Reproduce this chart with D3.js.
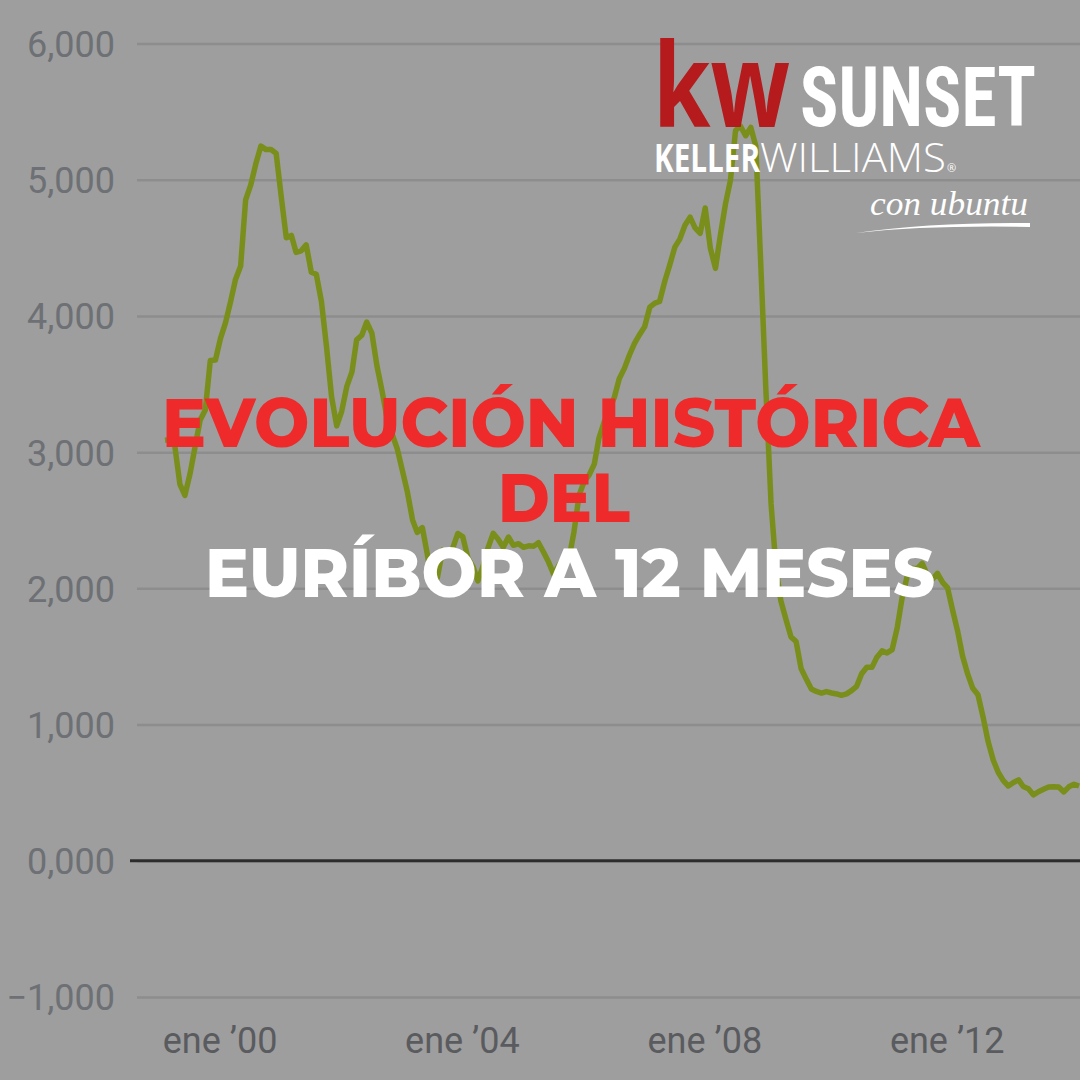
<!DOCTYPE html>
<html>
<head>
<meta charset="utf-8">
<script src="https://cdn.jsdelivr.net/npm/d3@7"></script>
<style>
  html, body { margin: 0; padding: 0; background: #9e9e9e; }
  svg { display: block; }
</style>
</head>
<body>
<div id="chart"></div>
<script>
// Euríbor a 12 meses, valores mensuales (ene..dic)
const years = [1999, 2000, 2001, 2002, 2003, 2004, 2005, 2006, 2007, 2008, 2009, 2010, 2011, 2012, 2013, 2014];
const v1999 = [3.088, 3.092, 3.047, 2.763, 2.682, 2.842, 3.037, 3.236, 3.309, 3.673, 3.676, 3.833];
const v2000 = [3.951, 4.108, 4.268, 4.367, 4.852, 4.962, 5.115, 5.247, 5.221, 5.222, 5.193, 4.882];
const v2001 = [4.574, 4.591, 4.467, 4.478, 4.522, 4.321, 4.306, 4.105, 3.769, 3.407, 3.193, 3.300];
const v2002 = [3.483, 3.589, 3.824, 3.858, 3.955, 3.874, 3.637, 3.451, 3.246, 3.133, 3.024, 2.870];
const v2003 = [2.708, 2.503, 2.411, 2.446, 2.252, 2.014, 2.080, 2.281, 2.258, 2.294, 2.403, 2.378];
const v2004 = [2.222, 2.157, 2.055, 2.163, 2.297, 2.404, 2.361, 2.302, 2.377, 2.316, 2.328, 2.301];
const v2005 = [2.312, 2.310, 2.335, 2.265, 2.193, 2.103, 2.168, 2.223, 2.220, 2.414, 2.684, 2.783];
const v2006 = [2.833, 2.914, 3.105, 3.221, 3.308, 3.401, 3.539, 3.615, 3.715, 3.799, 3.864, 3.921];
const v2007 = [4.064, 4.094, 4.106, 4.253, 4.373, 4.505, 4.564, 4.666, 4.725, 4.647, 4.607, 4.793];
const v2008 = [4.498, 4.349, 4.590, 4.820, 4.994, 5.361, 5.393, 5.323, 5.384, 5.248, 4.350, 3.452];
const v2009 = [2.622, 2.135, 1.909, 1.771, 1.644, 1.610, 1.412, 1.334, 1.261, 1.243, 1.231, 1.242];
const v2010 = [1.232, 1.225, 1.215, 1.225, 1.249, 1.281, 1.373, 1.421, 1.420, 1.495, 1.541, 1.526];
const v2011 = [1.550, 1.714, 1.924, 2.086, 2.147, 2.144, 2.183, 2.097, 2.067, 2.110, 2.044, 2.004];
const v2012 = [1.837, 1.678, 1.499, 1.368, 1.266, 1.219, 1.061, 0.877, 0.740, 0.650, 0.588, 0.549];
const v2013 = [0.575, 0.594, 0.545, 0.528, 0.484, 0.507, 0.525, 0.542, 0.543, 0.541, 0.506, 0.543];
const v2014 = [0.562, 0.549];
const yearValues = [v1999, v2000, v2001, v2002, v2003, v2004, v2005, v2006, v2007, v2008, v2009, v2010, v2011, v2012, v2013, v2014];

const yTicks = [-1, 0, 1, 2, 3, 4, 5, 6];
const xTickYears = [2000, 2004, 2008, 2012];
const monthShort = "ene";

const titleLine1 = "EVOLUCIÓN HISTÓRICA";
const titleLine2 = "DEL";
const titleLine3 = "EURÍBOR A 12 MESES";

const data = [];
years.forEach((yr, i) => {
  yearValues[i].forEach((v, m) => data.push({ date: new Date(yr, m, 1), value: v }));
});

const W = 1080, H = 1080;

const esLocale = d3.formatLocale({ decimal: ",", thousands: ".", grouping: [3], currency: ["", "€"] });
const fmt = esLocale.format(",.3f");

const svg = d3.select("#chart").append("svg")
  .attr("width", W)
  .attr("height", H);

svg.append("rect").attr("width", W).attr("height", H).attr("fill", "#9e9e9e");

// scales
const x = d3.scaleTime()
  .domain([new Date(1999, 0, 1), new Date(2014, 0, 1)])
  .range([165, 165 + 180 * 5.05]);
const y = d3.scaleLinear()
  .domain([-1, 6])
  .range([997, 43.5]);

// gridlines + y labels
const yAxis = d3.axisLeft(y)
  .tickValues(yTicks)
  .tickFormat(d => fmt(d))
  .tickSize(-(W - 137))
  .tickPadding(22);
const yAxisEl = svg.append("g")
  .attr("transform", "translate(137,0)")
  .call(yAxis);
yAxisEl.select(".domain").remove();
yAxisEl.selectAll("line")
  .attr("stroke", "#8d8d8d")
  .attr("stroke-width", 2.5);
yAxisEl.selectAll("text")
  .attr("fill", "#6d7074")
  .attr("font-family", "Roboto, sans-serif")
  .attr("font-size", 36)
  .attr("dy", "0.36em");

// zero line
svg.append("line")
  .attr("x1", 130).attr("x2", W)
  .attr("y1", y(0)).attr("y2", y(0))
  .attr("stroke", "#2d2d2d")
  .attr("stroke-width", 3);

// x axis labels
const xAxis = d3.axisBottom(x)
  .tickValues(xTickYears.map(yr => new Date(yr, 0, 1)))
  .tickFormat(d => `${monthShort} \u2019${String(d.getFullYear()).slice(2)}`)
  .tickSize(0)
  .tickPadding(0);
const xAxisEl = svg.append("g")
  .attr("transform", "translate(0,1053)")
  .call(xAxis);
xAxisEl.select(".domain").remove();
xAxisEl.selectAll("text")
  .attr("fill", "#5a5b5e")
  .attr("font-family", "Roboto, sans-serif")
  .attr("font-size", 36)
  .attr("dy", 0)
  .attr("dx", -6);

// line
const line = d3.line()
  .x(d => x(d.date))
  .y(d => y(d.value));
svg.append("path")
  .datum(data)
  .attr("fill", "none")
  .attr("stroke", "#7a8f1b")
  .attr("stroke-width", 5.5)
  .attr("stroke-linejoin", "round")
  .attr("d", line);

// title
const titleFont = "Montserrat, 'Open Sans', 'DejaVu Sans', sans-serif";
const title = svg.append("g")
  .attr("font-family", titleFont)
  .attr("font-weight", 800)
  .attr("text-anchor", "middle");
title.append("text")
  .attr("x", 571).attr("y", 447)
  .attr("font-size", 68)
  .attr("fill", "#ee2a2b")
  .attr("textLength", 818)
  .attr("lengthAdjust", "spacingAndGlyphs")
  .text(titleLine1);
title.append("text")
  .attr("x", 564).attr("y", 522)
  .attr("font-size", 68)
  .attr("fill", "#ee2a2b")
  .attr("textLength", 132)
  .attr("lengthAdjust", "spacingAndGlyphs")
  .text(titleLine2);
title.append("text")
  .attr("x", 570).attr("y", 597)
  .attr("font-size", 68)
  .attr("fill", "#ffffff")
  .attr("textLength", 730)
  .attr("lengthAdjust", "spacingAndGlyphs")
  .text(titleLine3);

// logo
const logo = svg.append("g");
logo.append("text")
  .attr("x", 653).attr("y", 127)
  .attr("font-family", "'Open Sans', 'DejaVu Sans', sans-serif")
  .attr("font-weight", 700)
  .attr("font-size", 116)
  .attr("fill", "#b51a1c")
  .attr("textLength", 137)
  .attr("lengthAdjust", "spacingAndGlyphs")
  .text("kw");
logo.append("text")
  .attr("x", 800).attr("y", 126)
  .attr("font-family", "'Liberation Sans Narrow', 'Roboto Condensed', 'Liberation Sans', sans-serif")
  .attr("font-weight", 700)
  .attr("font-size", 84)
  .attr("fill", "#ffffff")
  .attr("textLength", 236)
  .attr("lengthAdjust", "spacingAndGlyphs")
  .text("SUNSET");
logo.append("text")
  .attr("x", 654).attr("y", 172)
  .attr("font-family", "'Open Sans', 'DejaVu Sans', sans-serif")
  .attr("font-weight", 700)
  .attr("font-size", 40)
  .attr("fill", "#ffffff")
  .attr("textLength", 106)
  .attr("lengthAdjust", "spacingAndGlyphs")
  .text("KELLER");
logo.append("text")
  .attr("x", 760).attr("y", 172)
  .attr("font-family", "'Open Sans', 'DejaVu Sans', sans-serif")
  .attr("font-weight", 300)
  .attr("font-size", 40)
  .attr("fill", "#ffffff")
  .attr("textLength", 186)
  .attr("lengthAdjust", "spacingAndGlyphs")
  .text("WILLIAMS");
logo.append("text")
  .attr("x", 947).attr("y", 172)
  .attr("font-family", "'Open Sans', sans-serif")
  .attr("font-size", 11)
  .attr("fill", "#ffffff")
  .text("®");
logo.append("text")
  .attr("x", 870).attr("y", 215)
  .attr("font-family", "'Liberation Serif', 'DejaVu Serif', serif")
  .attr("font-style", "italic")
  .attr("font-size", 34)
  .attr("fill", "#ffffff")
  .attr("textLength", 158)
  .attr("lengthAdjust", "spacingAndGlyphs")
  .text("con ubuntu");
logo.append("path")
  .attr("d", "M856,233 Q930,222 1030,223 L1030,227 Q930,225 856,233 Z")
  .attr("fill", "#ffffff");
</script>
</body>
</html>
